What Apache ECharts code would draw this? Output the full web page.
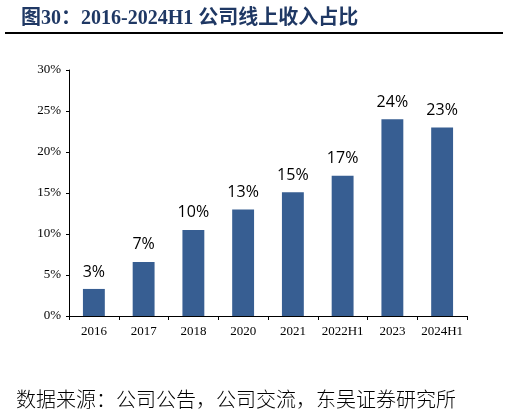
<!DOCTYPE html>
<html>
<head>
<meta charset="utf-8">
<script src="https://cdn.jsdelivr.net/npm/echarts@6/dist/echarts.min.js"></script>
<style>
html, body { margin: 0; padding: 0; background: #fff; }
#main { width: 509px; height: 416px; }
</style>
</head>
<body>
<div id="main"></div>
<script>
var categories = ['2016', '2017', '2018', '2020', '2021', '2022H1', '2023', '2024H1'];
var shareValues = [3.3, 6.6, 10.5, 13.0, 15.1, 17.1, 24.0, 23.0];
var shareLabels = ['3%', '7%', '10%', '13%', '15%', '17%', '24%', '23%'];

var myChart = echarts.init(document.getElementById('main'));
var option = {
    backgroundColor: '#fff',
    animation: false,
    title: {
        text: '图30：2016-2024H1 公司线上收入占比',
        left: 16,
        top: 4,
        textStyle: {
            color: '#1f3864',
            fontSize: 20,
            fontWeight: 'bold',
            fontFamily: '"Liberation Serif", "Noto Sans CJK SC", serif'
        }
    },
    graphic: [
        {
            type: 'line',
            shape: { x1: 5, y1: 33, x2: 503, y2: 33 },
            style: { stroke: '#000', lineWidth: 2 }
        },
        {
            type: 'text',
            left: 16,
            top: 389,
            style: {
                text: '数据来源：公司公告，公司交流，东吴证券研究所',
                fill: '#000',
                font: '300 20px "Noto Sans CJK SC"'
            }
        }
    ],
    grid: { left: 69, right: 42, top: 70, bottom: 100 },
    xAxis: {
        type: 'category',
        data: categories,
        axisLine: { lineStyle: { color: '#000', width: 1 } },
        axisTick: { show: true, length: 4, lineStyle: { color: '#000' } },
        axisLabel: {
            interval: 0,
            color: '#000',
            fontSize: 13,
            fontFamily: '"Liberation Serif", serif',
            margin: 9
        }
    },
    yAxis: {
        type: 'value',
        min: 0,
        max: 30,
        interval: 5,
        axisLine: { show: true, lineStyle: { color: '#000' } },
        axisTick: { show: true, length: 3, lineStyle: { color: '#000' } },
        splitLine: { show: false },
        axisLabel: {
            color: '#000',
            fontSize: 13,
            fontFamily: '"Liberation Serif", serif',
            margin: 8,
            formatter: '{value}%'
        }
    },
    series: [{
        type: 'bar',
        data: shareValues,
        barWidth: '44%',
        itemStyle: { color: '#375e92' },
        label: {
            show: true,
            position: 'top',
            distance: 9,
            color: '#000',
            fontSize: 16,
            fontFamily: '"Open Sans", "Liberation Sans", sans-serif',
            formatter: function (p) { return shareLabels[p.dataIndex]; }
        }
    }]
};
myChart.setOption(option);
</script>
</body>
</html>
